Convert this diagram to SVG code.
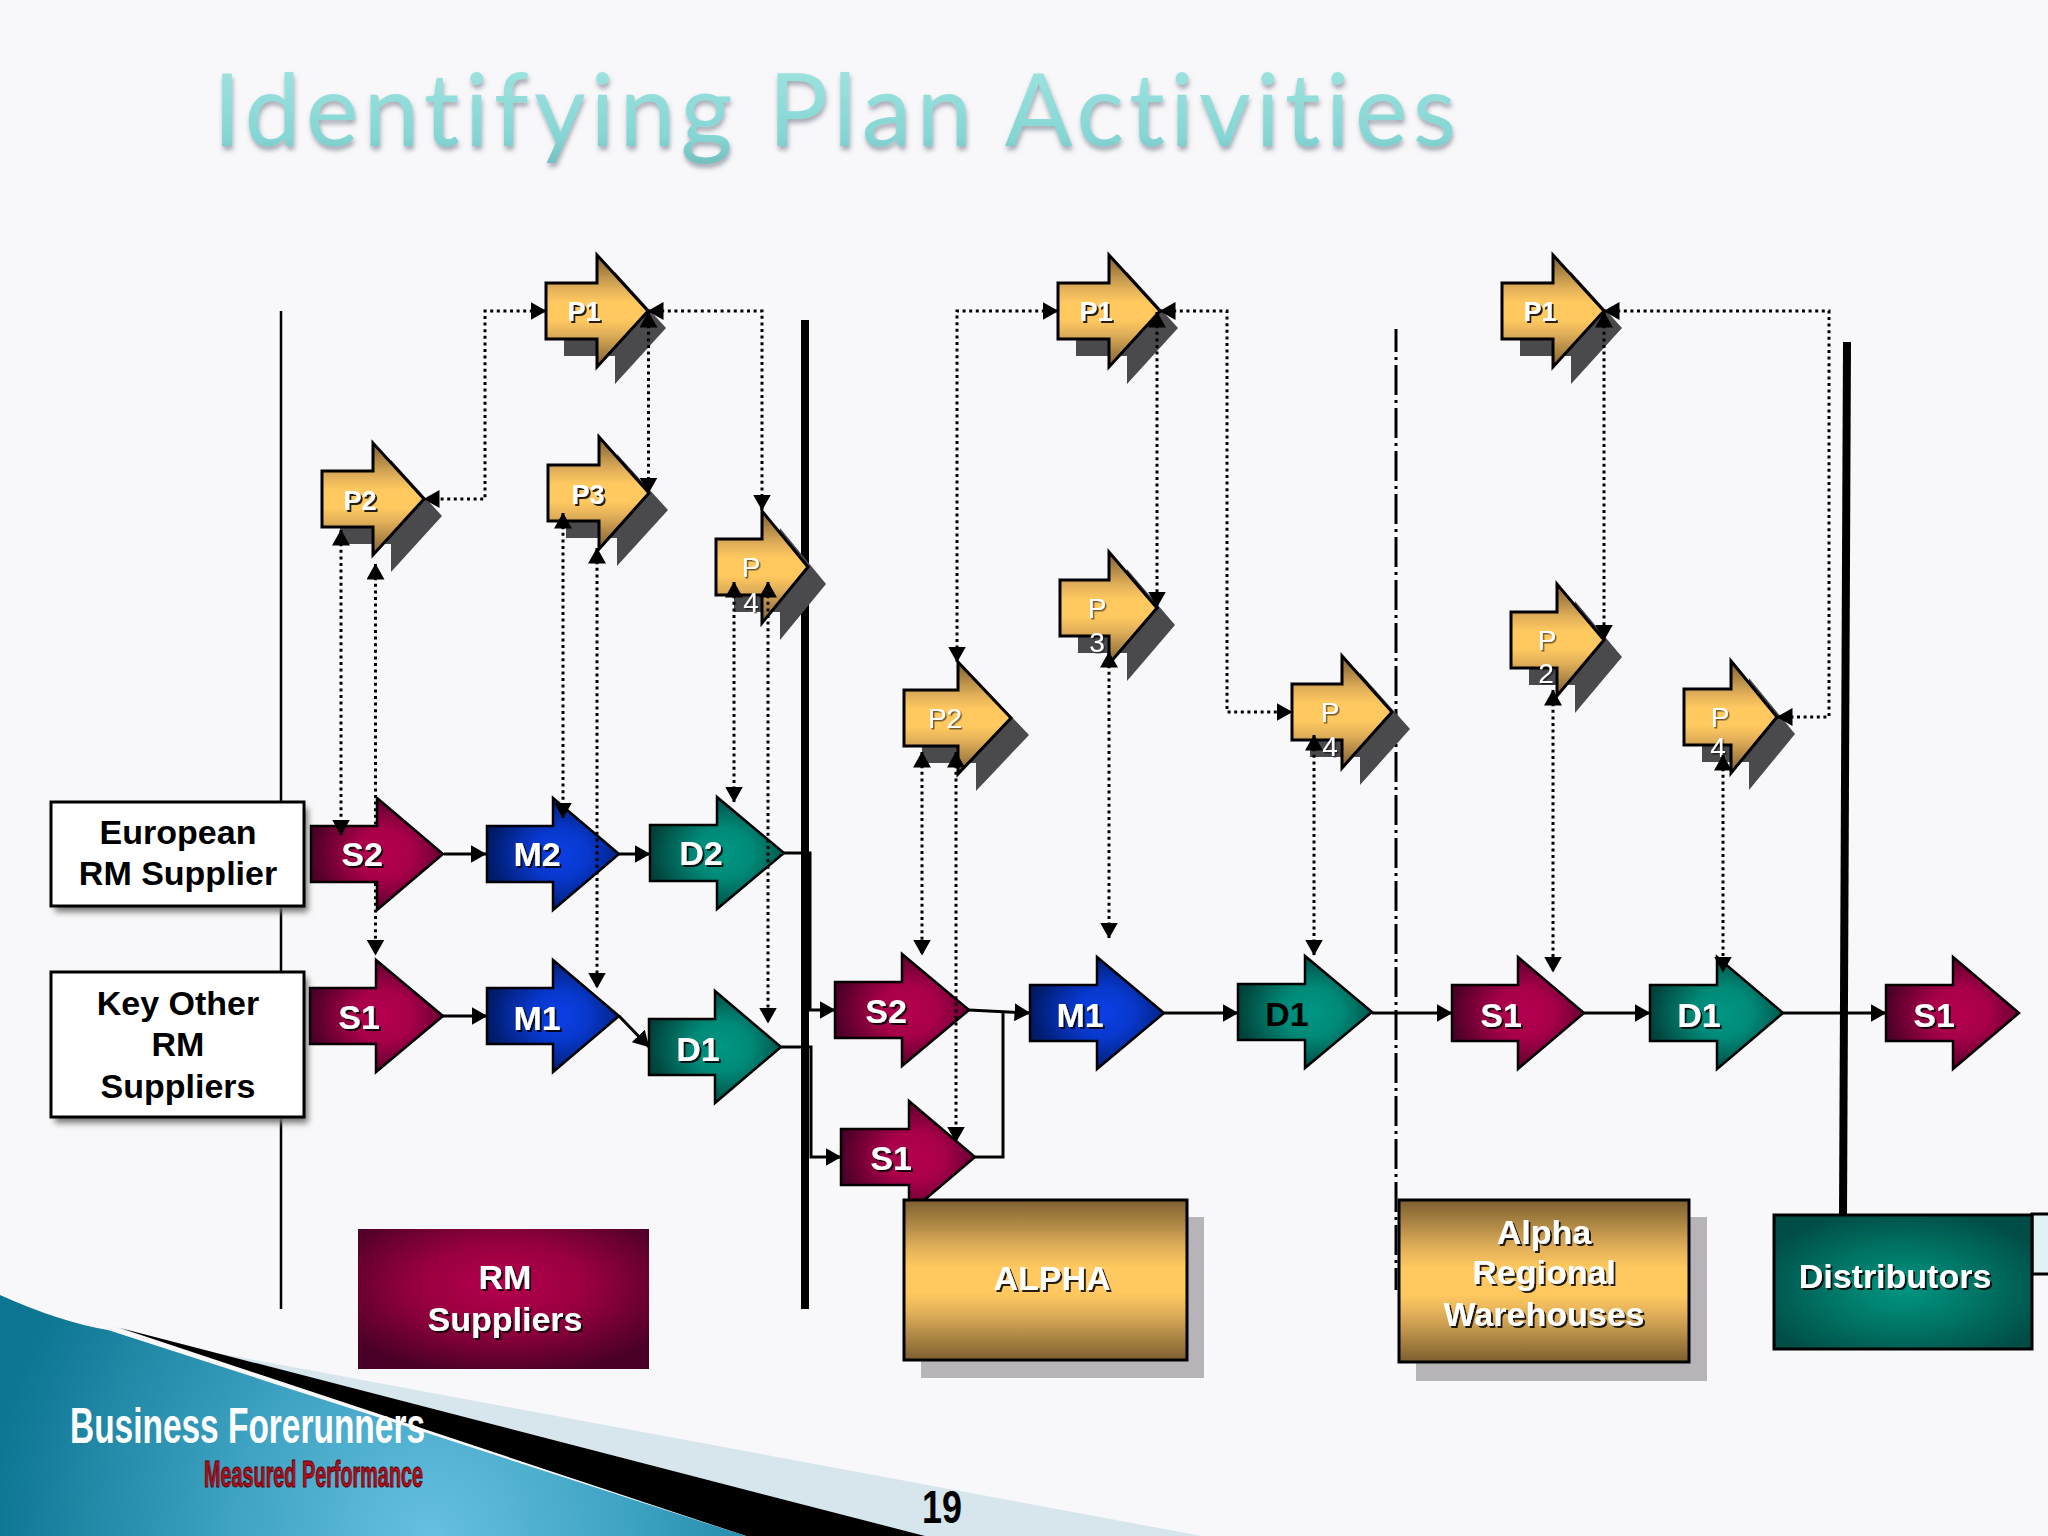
<svg xmlns="http://www.w3.org/2000/svg" width="2048" height="1536" viewBox="0 0 2048 1536">
<defs>
<linearGradient id="gold" x1="0" y1="0" x2="0" y2="1"><stop offset="0" stop-color="#7c5f30"/><stop offset=".3" stop-color="#e2b05a"/><stop offset=".42" stop-color="#ffc95f"/><stop offset=".58" stop-color="#ffc95f"/><stop offset=".7" stop-color="#e2b05a"/><stop offset="1" stop-color="#7c5f30"/></linearGradient>
<radialGradient id="mar" cx=".55" cy=".5" r=".55"><stop offset="0" stop-color="#b5004f"/><stop offset=".4" stop-color="#a80049"/><stop offset="1" stop-color="#4d0027"/></radialGradient>
<radialGradient id="blu" cx=".55" cy=".5" r=".55"><stop offset="0" stop-color="#0a3fe6"/><stop offset=".4" stop-color="#0838cc"/><stop offset="1" stop-color="#001a66"/></radialGradient>
<radialGradient id="tea" cx=".55" cy=".5" r=".55"><stop offset="0" stop-color="#009682"/><stop offset=".4" stop-color="#008a78"/><stop offset="1" stop-color="#00423a"/></radialGradient>
<radialGradient id="rmbox" cx=".5" cy=".4" r=".65"><stop offset="0" stop-color="#b5004f"/><stop offset=".45" stop-color="#98003f"/><stop offset="1" stop-color="#4a0026"/></radialGradient>
<radialGradient id="dist" cx=".5" cy=".55" r=".6"><stop offset="0" stop-color="#009682"/><stop offset=".5" stop-color="#007465"/><stop offset="1" stop-color="#004d45"/></radialGradient>
<radialGradient id="sea" gradientUnits="userSpaceOnUse" cx="430" cy="1536" r="440"><stop offset="0" stop-color="#66c0e0"/><stop offset=".45" stop-color="#3fa3c3"/><stop offset="1" stop-color="#0d7693"/></radialGradient>
<linearGradient id="ttl" x1="0" y1="0" x2="0" y2="1"><stop offset="0" stop-color="#a5e6e2"/><stop offset=".75" stop-color="#84d6d4"/><stop offset="1" stop-color="#74bcbe"/></linearGradient>
<filter id="ts" x="-20%" y="-20%" width="140%" height="140%"><feDropShadow dx="2" dy="2" stdDeviation=".6" flood-color="#000" flood-opacity=".85"/></filter>
<filter id="ts2" x="-20%" y="-20%" width="140%" height="140%"><feDropShadow dx="1.500" dy="1.500" stdDeviation=".5" flood-color="#000" flood-opacity=".55"/></filter>
<filter id="ttls" x="-5%" y="-10%" width="110%" height="130%"><feDropShadow dx="1" dy="4" stdDeviation="2.5" flood-color="#606878" flood-opacity=".55"/></filter>
<filter id="soft" x="-10%" y="-10%" width="120%" height="130%"><feGaussianBlur stdDeviation="3"/></filter>
<marker id="ah" markerUnits="userSpaceOnUse" markerWidth="16" markerHeight="18" viewBox="0 0 16 18" refX="15.500" refY="9" orient="auto-start-reverse"><path d="M0,0L16,9L0,18z" fill="#000"/></marker>
</defs>
<style>
.sh{fill:#4a494c}
.plan{fill:url(#gold);stroke:#000;stroke-width:3}
.s{fill:url(#mar);stroke:#000;stroke-width:2.5}
.m{fill:url(#blu);stroke:#000;stroke-width:2.5}
.d{fill:url(#tea);stroke:#000;stroke-width:2.5}
text{font-family:"Liberation Sans",Arial,sans-serif;text-anchor:middle}
.lb{font-weight:700;font-size:27px;fill:#fff;filter:url(#ts)}
.lg{font-weight:700;font-size:34px;fill:#fff;filter:url(#ts)}
.pn{font-size:28px;fill:#fff;filter:url(#ts2)}
.bk{font-weight:700;font-size:34px;fill:#000}
.dot{fill:none;stroke:#000;stroke-width:3;stroke-dasharray:3 3.6;marker-start:url(#ah);marker-end:url(#ah)}
.dot1{fill:none;stroke:#000;stroke-width:3;stroke-dasharray:3 3.6}
.sol{fill:none;stroke:#000;stroke-width:3}
.arr{marker-end:url(#ah)}
.ars{marker-start:url(#ah)}
</style>
<rect id="background" width="2048" height="1536" fill="#f8f8fa"/>
<text id="title" x="213" y="146" textLength="1243" lengthAdjust="spacing" style="font-family:Lato,'Noto Sans',sans-serif;font-variant-ligatures:none;font-size:100px;text-anchor:start;fill:url(#ttl);filter:url(#ttls)">Identifying Plan Activities</text>

<g id="footer">
<path d="M108,1325L174,1345L1202,1536L925,1536z" fill="#d6e6ec"/>
<path d="M120,1328L925,1536L746,1536z" fill="#000"/>
<path d="M0,1295Q60,1322 108,1330L746,1536L0,1536z" fill="url(#sea)"/>
<text x="70" y="1443" textLength="355" lengthAdjust="spacingAndGlyphs" style="font-weight:700;font-size:50px;fill:#fff;text-anchor:start">Business Forerunners</text>
<text x="204" y="1487" textLength="219" lengthAdjust="spacingAndGlyphs" style="font-weight:700;font-size:36px;fill:#b01020;stroke:#500;stroke-width:1;text-anchor:start">Measured Performance</text>
<text x="942" y="1523" textLength="40" lengthAdjust="spacingAndGlyphs" style="font-weight:700;font-size:46px;fill:#000">19</text>
</g>

<g id="swimlanes">
<line x1="281" y1="311" x2="281" y2="1309" stroke="#000" stroke-width="2.5"/>
<line x1="805" y1="320" x2="805" y2="1309" stroke="#000" stroke-width="8"/>
<line x1="1396" y1="329" x2="1396" y2="1290" stroke="#000" stroke-width="3" stroke-dasharray="30 5 3 5" stroke-dashoffset="7"/>
<line x1="1847" y1="342" x2="1843" y2="1218" stroke="#000" stroke-width="8"/>
</g>

<g id="box-european"><rect x="55" y="808" width="253" height="104" fill="#777" filter="url(#soft)"/><rect x="51" y="802" width="253" height="104" fill="#fff" stroke="#000" stroke-width="3"/><text class="bk" x="178" y="844">European</text><text class="bk" x="178" y="885">RM Supplier</text></g>
<g id="box-keyother"><rect x="55" y="978" width="253" height="145" fill="#777" filter="url(#soft)"/><rect x="51" y="972" width="253" height="145" fill="#fff" stroke="#000" stroke-width="3"/><text class="bk" x="178" y="1015">Key Other</text><text class="bk" x="178" y="1056">RM</text><text class="bk" x="178" y="1098">Suppliers</text></g>

<g id="s2-a"><path class="s" d="M311,826h66v-28l66,56l-66,56v-28h-66z"/><text class="lg" x="362" y="866">S2</text></g>
<g id="m2-a"><path class="m" d="M487,826h66v-28l66,56l-66,56v-28h-66z"/><text class="lg" x="537" y="866">M2</text></g>
<g id="d2-a"><path class="d" d="M650,825h67v-28l67,56l-67,56v-28h-67z"/><text class="lg" x="701" y="865">D2</text></g>
<g id="s1-a"><path class="s" d="M310,988h66v-28l67,56l-67,56v-28h-66z"/><text class="lg" x="359" y="1029">S1</text></g>
<g id="m1-a"><path class="m" d="M487,988h66v-28l66,56l-66,56v-28h-66z"/><text class="lg" x="537" y="1030">M1</text></g>
<g id="d1-a"><path class="d" d="M649,1019h66v-28l66,56l-66,56v-28h-66z"/><text class="lg" x="698" y="1061">D1</text></g>
<g id="s2-b"><path class="s" d="M835,982h67v-28l67,56l-67,56v-28h-67z"/><text class="lg" x="886" y="1023">S2</text></g>
<g id="s1-b"><path class="s" d="M841,1129h68v-28l66,56l-66,56v-28h-68z"/><text class="lg" x="891" y="1170">S1</text></g>
<g id="m1-b"><path class="m" d="M1030,985h67v-28l67,56l-67,56v-28h-67z"/><text class="lg" x="1080" y="1027">M1</text></g>
<g id="d1-b"><path class="d" d="M1238,984h67v-28l67,56l-67,56v-28h-67z"/><text class="lg" x="1287" y="1026" style="fill:#000;filter:none">D1</text></g>
<g id="s1-c"><path class="s" d="M1452,985h66v-28l66,56l-66,56v-28h-66z"/><text class="lg" x="1501" y="1027">S1</text></g>
<g id="d1-c"><path class="d" d="M1650,985h67v-28l66,56l-66,56v-28h-67z"/><text class="lg" x="1699" y="1027">D1</text></g>
<g id="s1-d"><path class="s" d="M1886,985h67v-28l66,56l-66,56v-28h-67z"/><text class="lg" x="1934" y="1027">S1</text></g>

<g id="p1-a"><path class="sh" d="M564,300h51v-28l51,56l-51,56v-28h-51z"/><path class="plan" d="M546,283h51v-28l51,56l-51,56v-28h-51z"/><text class="lb" x="584" y="321">P1</text></g>
<g id="p2-a"><path class="sh" d="M340,488h51v-28l51,56l-51,56v-28h-51z"/><path class="plan" d="M322,471h51v-28l51,56l-51,56v-28h-51z"/><text class="lb" x="360" y="510">P2</text></g>
<g id="p3-a"><path class="sh" d="M566,482h51v-28l51,56l-51,56v-28h-51z"/><path class="plan" d="M548,465h51v-28l50,56l-50,56v-28h-51z"/><text class="lb" x="588" y="504">P3</text></g>
<g id="p4-a"><path class="sh" d="M734,556h46v-28l46,56l-46,56v-28h-46z"/><path class="plan" d="M716,539h46v-28l46,56l-46,56v-28h-46z"/><text class="pn" x="751" y="577">P</text><text class="pn" x="751" y="612">4</text></g>
<g id="p1-b"><path class="sh" d="M1076,300h51v-28l51,56l-51,56v-28h-51z"/><path class="plan" d="M1058,283h51v-28l51,56l-51,56v-28h-51z"/><text class="lb" x="1096" y="321">P1</text></g>
<g id="p3-b"><path class="sh" d="M1078,597h49v-28l48,56l-48,56v-28h-49z"/><path class="plan" d="M1060,580h49v-28l48,56l-48,56v-28h-49z"/><text class="pn" x="1097" y="618">P</text><text class="pn" x="1097" y="652">3</text></g>
<g id="p2-b"><path class="sh" d="M922,707h54v-28l53,56l-53,56v-28h-54z"/><path class="plan" d="M904,690h54v-28l53,56l-53,56v-28h-54z"/><text class="pn" x="945" y="728">P2</text></g>
<g id="p1-c"><path class="sh" d="M1520,300h51v-28l51,56l-51,56v-28h-51z"/><path class="plan" d="M1502,283h51v-28l51,56l-51,56v-28h-51z"/><text class="lb" x="1540" y="321">P1</text></g>
<g id="p2-c"><path class="sh" d="M1529,629h46v-28l47,56l-47,56v-28h-46z"/><path class="plan" d="M1511,612h46v-28l47,56l-47,56v-28h-46z"/><text class="pn" x="1547" y="650">P</text><text class="pn" x="1546" y="683">2</text></g>
<g id="p4-b"><path class="sh" d="M1310,701h50v-28l50,56l-50,56v-28h-50z"/><path class="plan" d="M1292,684h50v-28l50,56l-50,56v-28h-50z"/><text class="pn" x="1330" y="722">P</text><text class="pn" x="1330" y="756">4</text></g>
<g id="p4-c"><path class="sh" d="M1702,706h47v-28l46,56l-46,56v-28h-47z"/><path class="plan" d="M1684,689h47v-28l46,56l-46,56v-28h-47z"/><text class="pn" x="1720" y="727">P</text><text class="pn" x="1718" y="757">4</text></g>

<g id="connectors">
<path class="sol arr" d="M444,854H486"/>
<path class="sol arr" d="M619,854H650"/>
<path class="sol arr" d="M443,1016H487"/>
<path class="sol arr" d="M619,1016L649,1047"/>
<path class="sol arr" d="M784,853H810V1010H835"/>
<path class="sol arr" d="M781,1047H811V1157H841"/>
<path class="sol arr" d="M969,1010L1030,1013"/>
<path class="sol" d="M975,1157H1003V1012"/>
<path class="sol arr" d="M1164,1013H1238"/>
<path class="sol arr" d="M1372,1013H1452"/>
<path class="sol arr" d="M1584,1013H1650"/>
<path class="sol arr" d="M1783,1013H1886"/>
<path class="dot" d="M546,311H485V499H424"/>
<path class="dot" d="M648,311H762V510"/>
<path class="dot" d="M648.500,312V493"/>
<path class="dot" d="M341,530V835"/>
<path class="dot1 ars" d="M375.500,564V825"/>
<path class="dot1 arr" d="M375.500,883V955"/>
<path class="dot" d="M563,513V818"/>
<path class="dot" d="M597,548V988"/>
<path class="dot" d="M734,582V802"/>
<path class="dot" d="M768,582V1023"/>
<path class="dot" d="M1058,311H957V662"/>
<path class="dot" d="M1160,311H1227V712H1292"/>
<path class="dot" d="M1157,312V607"/>
<path class="dot" d="M1109,652V938"/>
<path class="dot" d="M922,752V955"/>
<path class="dot" d="M956,752V1142"/>
<path class="dot" d="M1314,735V955"/>
<path class="dot" d="M1604,311H1829V717H1777"/>
<path class="dot" d="M1604,312V640"/>
<path class="dot" d="M1553,690V972"/>
<path class="dot" d="M1723,755V972"/>
</g>

<g id="box-rm"><rect x="358" y="1229" width="291" height="140" fill="url(#rmbox)"/><text class="lg" x="505" y="1289">RM</text><text class="lg" x="505" y="1331">Suppliers</text></g>
<g id="box-alpha"><rect x="921" y="1217" width="283" height="161" fill="#b6b4b9"/><rect x="904" y="1200" width="283" height="160" fill="url(#gold)" stroke="#000" stroke-width="3"/><text class="lg" x="1052" y="1290">ALPHA</text></g>
<g id="box-warehouses"><rect x="1416" y="1217" width="291" height="164" fill="#b6b4b9"/><rect x="1399" y="1200" width="290" height="162" fill="url(#gold)" stroke="#000" stroke-width="3"/><text class="lg" x="1544" y="1244">Alpha</text><text class="lg" x="1544" y="1284">Regional</text><text class="lg" x="1544" y="1326">Warehouses</text></g>
<g id="box-distributors"><rect x="2032" y="1214" width="20" height="60" fill="#e0f2f5" stroke="#000" stroke-width="3"/><rect x="1774" y="1215" width="258" height="134" fill="url(#dist)" stroke="#000" stroke-width="3"/><text class="lg" x="1895" y="1288">Distributors</text></g>
</svg>
